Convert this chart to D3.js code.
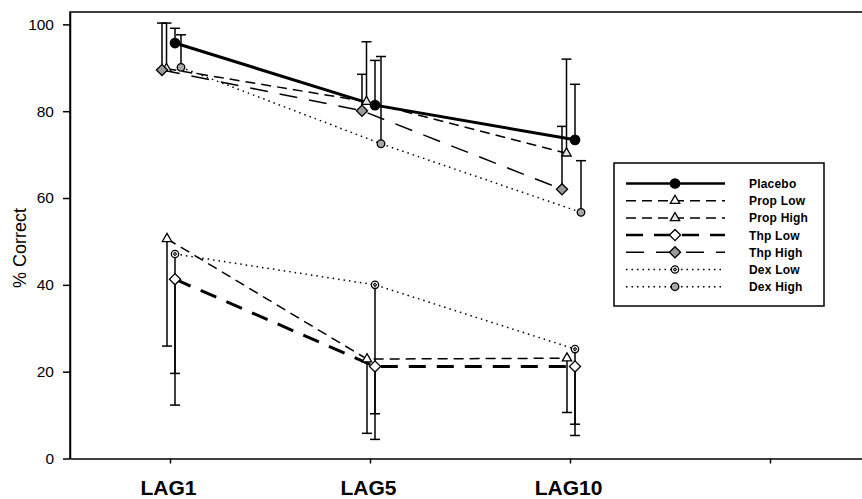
<!DOCTYPE html>
<html>
<head>
<meta charset="utf-8">
<script src="https://cdn.jsdelivr.net/npm/d3@7.9.0/dist/d3.min.js"></script>
<style>
  body { margin: 0; background: #fff; }
  svg { display: block; font-family: "Liberation Sans", Arial, sans-serif; }
</style>
</head>
<body>
<div id="chart"></div>
<script>
// categories on the x axis (4th slot is an empty tick)
const categories = ["LAG1", "LAG5", "LAG10", ""];
const yTicks = [0, 20, 40, 60, 80, 100];
const seriesNames = ["Placebo", "Prop Low", "Prop High", "Thp Low", "Thp High", "Dex Low", "Dex High"];

// mean % correct per lag
const placebo  = [95.7, 81.4, 73.4];
const propLow  = [50.6, 22.9, 23.1];
const propHigh = [89.8, 82.2, 70.3];
const thpLow   = [41.3, 21.2, 21.2];
const thpHigh  = [89.5, 80.1, 62.0];
const dexLow   = [47.1, 40.0, 25.2];
const dexHigh  = [90.1, 72.5, 56.7];

// one-sided error bars (SD), drawn up for the top group, down for the bottom group
const placeboErr  = [3.4, 10.3, 12.8];
const propLowErr  = [24.7, 17.1, 12.5];
const propHighErr = [10.5, 13.8, 21.7];
const thpLowErr   = [21.7, 10.9, 13.3];
const thpHighErr  = [10.8, 8.4, 14.5];
const dexLowErr   = [34.8, 35.6, 19.9];
const dexHighErr  = [7.5, 20.1, 11.9];

const W = 862, H = 499;
const PLOT = { left: 70, right: 870, top: 12, bottom: 458.5 };

const svg = d3.select("#chart").append("svg")
  .attr("width", W)
  .attr("height", H);

const x = d3.scalePoint().domain(categories).range([PLOT.left, PLOT.right]).padding(0.5);
const y = d3.scaleLinear().domain([0, 102.85]).range([PLOT.bottom, PLOT.top]);

// style per series: dash, width, marker, fill, x jitter, error direction
const styles = [
  { dash: null,    width: 3,   sym: "circle",   size: 70, fill: "#000", dx: 5,  dir: 1 },
  { dash: "10,6",  width: 1.5, sym: "triangle", size: 38, fill: "#fff", dx: -3, dir: -1 },
  { dash: "10,6",  width: 1.5, sym: "triangle", size: 38, fill: "#e6e6e6", dx: -3.5, dir: 1 },
  { dash: "17,11", width: 3,   sym: "diamond",  size: 62, fill: "#fff", dx: 5,  dir: -1 },
  { dash: "18,12", width: 1.5, sym: "diamond",  size: 62, fill: "#9a9a9a", dx: -8, dir: 1 },
  { dash: "1.5,4", width: 1.5, sym: "circleDot",size: 42, fill: "#fff", dx: 5,  dir: -1 },
  { dash: "1.5,4", width: 1.5, sym: "circle",   size: 45, fill: "#a8a8a8", dx: 11, dir: 1 }
];

const values = [placebo, propLow, propHigh, thpLow, thpHigh, dexLow, dexHigh];
const errors = [placeboErr, propLowErr, propHighErr, thpLowErr, thpHighErr, dexLowErr, dexHighErr];

const series = seriesNames.map((name, i) => ({
  name: name,
  style: styles[i],
  points: values[i].map((v, j) => ({ cat: categories[j], v: v, e: errors[i][j] }))
}));

// frame (top line + axes)
svg.append("path")
  .attr("d", `M${PLOT.left},${PLOT.bottom}V${PLOT.top}H${PLOT.right}`)
  .attr("fill", "none")
  .attr("stroke", "#000")
  .attr("stroke-width", 1.5);

const yAxis = svg.append("g")
  .attr("transform", `translate(${PLOT.left},0)`)
  .call(d3.axisLeft(y).tickValues(yTicks).tickSize(7).tickSizeOuter(0).tickPadding(9));
yAxis.select(".domain").attr("stroke-width", 1.5);
yAxis.selectAll(".tick line").attr("stroke-width", 1.5);
yAxis.selectAll(".tick text")
  .attr("font-size", 15.5)
  .attr("font-family", "Liberation Sans, Arial, sans-serif")
  .attr("fill", "#000");

const xAxis = svg.append("g")
  .attr("transform", `translate(0,${PLOT.bottom})`)
  .call(d3.axisBottom(x).tickSize(5).tickSizeOuter(0).tickPadding(17));
xAxis.select(".domain").attr("stroke-width", 1.5);
xAxis.selectAll(".tick line").attr("stroke-width", 1.5);
xAxis.selectAll(".tick text")
  .attr("font-size", 21)
  .attr("font-weight", "bold")
  .attr("font-family", "Liberation Sans, Arial, sans-serif")
  .attr("fill", "#000")
  .attr("dx", -2);

svg.append("text")
  .attr("transform", `translate(26,248) rotate(-90)`)
  .attr("text-anchor", "middle")
  .attr("font-size", 18)
  .text("% Correct");

function symbolPath(sym, size) {
  if (sym === "triangle") return d3.symbol(d3.symbolTriangle, size)();
  if (sym === "diamond") return d3.symbol(d3.symbolSquare, size)();
  return d3.symbol(d3.symbolCircle, size)();
}

function drawMarker(g, st, cx, cy) {
  g.append("path")
    .attr("d", symbolPath(st.sym, st.size))
    .attr("transform", `translate(${cx},${cy})` + (st.sym === "diamond" ? " rotate(45)" : ""))
    .attr("fill", st.fill)
    .attr("stroke", "#000")
    .attr("stroke-width", 1.3);
  if (st.sym === "circleDot") {
    g.append("path")
      .attr("d", d3.symbol(d3.symbolSquare, 5)())
      .attr("transform", `translate(${cx},${cy}) rotate(45)`)
      .attr("fill", "none")
      .attr("stroke", "#000")
      .attr("stroke-width", 1);
  }
}

const line = d3.line()
  .x(d => x(d.cat))
  .y(d => y(d.v));

const plot = svg.append("g");

// lines
series.forEach(s => {
  plot.append("path")
    .datum(s.points)
    .attr("transform", `translate(${s.style.dx},0)`)
    .attr("d", line)
    .attr("fill", "none")
    .attr("stroke", "#000")
    .attr("stroke-width", s.style.width)
    .attr("stroke-dasharray", s.style.dash);
});

// error bars
series.forEach(s => {
  s.points.forEach(p => {
    const cx = x(p.cat) + s.style.dx;
    const yEnd = y(p.v + s.style.dir * p.e);
    plot.append("line")
      .attr("x1", cx).attr("x2", cx)
      .attr("y1", y(p.v)).attr("y2", yEnd)
      .attr("stroke", "#000")
      .attr("stroke-width", 1.5);
    plot.append("line")
      .attr("x1", cx - 5).attr("x2", cx + 5)
      .attr("y1", yEnd).attr("y2", yEnd)
      .attr("stroke", "#000")
      .attr("stroke-width", 1.5);
  });
});

// markers
series.forEach(s => {
  s.points.forEach(p => {
    drawMarker(plot, s.style, x(p.cat) + s.style.dx, y(p.v));
  });
});

// legend
const legend = svg.append("g").attr("transform", "translate(614,163)");
legend.append("rect")
  .attr("width", 210)
  .attr("height", 143)
  .attr("fill", "#fff")
  .attr("stroke", "#000")
  .attr("stroke-width", 1.5);

series.forEach((s, i) => {
  const ly = 20.5 + i * 17.2;
  legend.append("line")
    .attr("x1", 12).attr("x2", 111)
    .attr("y1", ly).attr("y2", ly)
    .attr("stroke", "#000")
    .attr("stroke-width", s.style.width === 3 ? 2.5 : 1.5)
    .attr("stroke-dasharray", s.style.dash);
  drawMarker(legend, s.style, 61, ly);
  legend.append("text")
    .attr("x", 135)
    .attr("y", ly + 4.5)
    .attr("font-size", 12)
    .attr("font-weight", "bold")
    .attr("letter-spacing", 0.2)
    .text(s.name);
});
</script>
</body>
</html>
